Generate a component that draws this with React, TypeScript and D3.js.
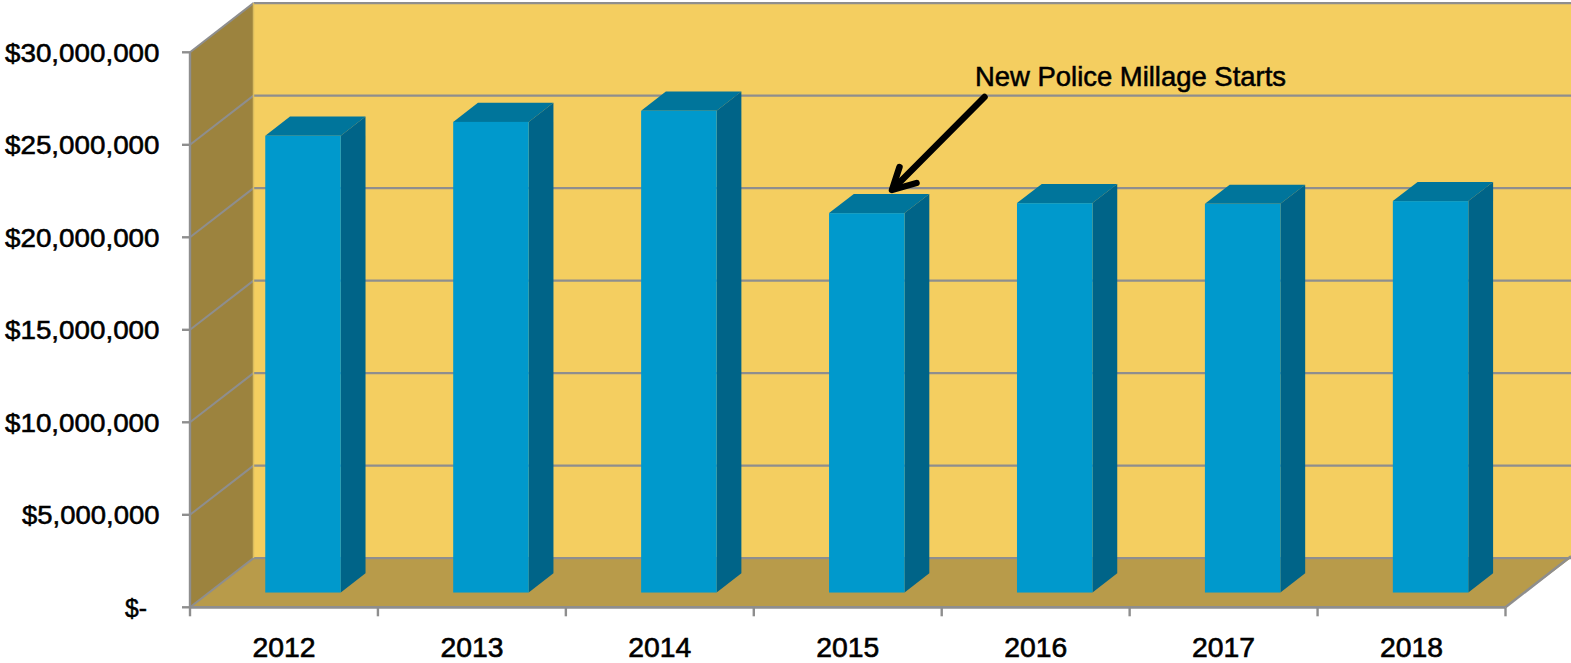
import React from "react";
import * as d3 from "d3";

const years = ["2012", "2013", "2014", "2015", "2016", "2017", "2018"];
const revenue = [24690000, 25440000, 26040000, 20510000, 21050000, 21010000, 21160000];
const tickValues = [0, 5000000, 10000000, 15000000, 20000000, 25000000, 30000000];
const tickLabels = ["$-", "$5,000,000", "$10,000,000", "$15,000,000", "$20,000,000", "$25,000,000", "$30,000,000"];
const annotation = "New Police Millage Starts";

const W = 1571, H = 663;
const x0 = 190, x1 = 1505.5, yBottom = 607.3, yTop = 52.3;
const depthX = 63.5, depthY = 49.2;
const barStart = 0.30, barEnd = 0.69;
const FONT = "'Liberation Sans', Arial, sans-serif";
const GRID = "#8E8E8E";

const y = d3.scaleLinear().domain([0, 30000000]).range([yBottom, yTop]);
const poly = (pts: [number, number][]) => pts.map(p => p.join(",")).join(" ");
const labelWidth = (s: string) => (s.length === 11 ? 154.5 : s.length === 10 ? 137.5 : 22);

export default function App() {
  const bw = 75.5;
  const wallX = x0 + depthX, wallBottom = yBottom - depthY, wallTop = yTop - depthY;
  return (
    <svg width={W} height={H} viewBox={`0 0 ${W} ${H}`} style={{ position: "absolute", left: 0, top: 0, display: "block" }}>
      <rect width={W} height={H} fill="#fff" />
      <rect x={wallX} y={wallTop} width={W - wallX} height={wallBottom - wallTop} fill="#F4CE60" />
      <polygon points={poly([[x0, yTop], [wallX, wallTop], [wallX, wallBottom], [x0, yBottom]])} fill="#9C833E" />
      <polygon points={poly([[x0, yBottom], [wallX, wallBottom], [W, wallBottom], [x1, yBottom]])} fill="#B89B4A" />
      {tickValues.map(t => (
        <g key={t}>
          <line x1={x0} x2={wallX} y1={y(t)} y2={y(t) - depthY} stroke={GRID} strokeWidth={2} />
          <line x1={wallX} x2={W} y1={y(t) - depthY} y2={y(t) - depthY} stroke={GRID} strokeWidth={2.4} />
          <line x1={x0 - 8} x2={x0} y1={y(t)} y2={y(t)} stroke={GRID} strokeWidth={2.4} />
        </g>
      ))}
      <line x1={wallX} x2={wallX} y1={wallTop} y2={wallBottom} stroke="#D9BC5E" strokeWidth={1.5} />
      <line x1={x0} x2={x0} y1={yTop} y2={yBottom} stroke={GRID} strokeWidth={2.4} />
      <line x1={x0} x2={x1} y1={yBottom} y2={yBottom} stroke={GRID} strokeWidth={2.8} />
      <line x1={x1} x2={W} y1={yBottom} y2={yBottom - 51} stroke={GRID} strokeWidth={2.4} />
      {d3.range(8).map(i => {
        const tx = x0 + ((x1 - x0) / 7) * i;
        return <line key={i} x1={tx} x2={tx} y1={yBottom} y2={yBottom + 9} stroke={GRID} strokeWidth={2.4} />;
      })}
      {years.map((yr, i) => {
        const band = (x1 - x0) / 7;
        const cx = x0 + band * i + band / 2;
        const left = cx - bw / 2 + depthX * barStart;
        const right = left + bw;
        const off = depthY * barStart;
        const top = y(revenue[i]) - off, bottom = y(0) - off;
        const dx = depthX * (barEnd - barStart), dy = depthY * (barEnd - barStart);
        return (
          <g key={yr}>
            <polygon points={poly([[left, top], [left + dx, top - dy], [right + dx, top - dy], [right, top]])} fill="#00759B" />
            <polygon points={poly([[right, top], [right + dx, top - dy], [right + dx, bottom - dy], [right, bottom]])} fill="#006488" />
            <rect x={left} y={top} width={bw} height={bottom - top} fill="#0099CC" />
            <text x={cx} y={656.5} textAnchor="middle" fontFamily={FONT} fontSize={27} fill="#000" stroke="#000" strokeWidth={0.6}
              textLength={63} lengthAdjust="spacingAndGlyphs">{yr}</text>
          </g>
        );
      })}
      {tickValues.map((t, i) => {
        const s = tickLabels[i];
        const w = labelWidth(s);
        const right = t === 0 ? 147 : 159.5;
        return (
          <text key={t} x={right - w} y={y(t) + 9.5} fontFamily={FONT} fontSize={25.5} fill="#000" stroke="#000" strokeWidth={0.55}
            textLength={w} lengthAdjust="spacingAndGlyphs">{s}</text>
        );
      })}
      <text x={975} y={86} fontFamily={FONT} fontSize={28} fill="#000" stroke="#000" strokeWidth={0.55}
        textLength={311} lengthAdjust="spacingAndGlyphs">{annotation}</text>
      <g stroke="#000" strokeWidth={6.5} fill="none" strokeLinecap="round" strokeLinejoin="round">
        <line x1={984.5} y1={97} x2={894} y2={188} />
        <polyline points="899.5,167 892,190 916.5,183" />
      </g>
    </svg>
  );
}
